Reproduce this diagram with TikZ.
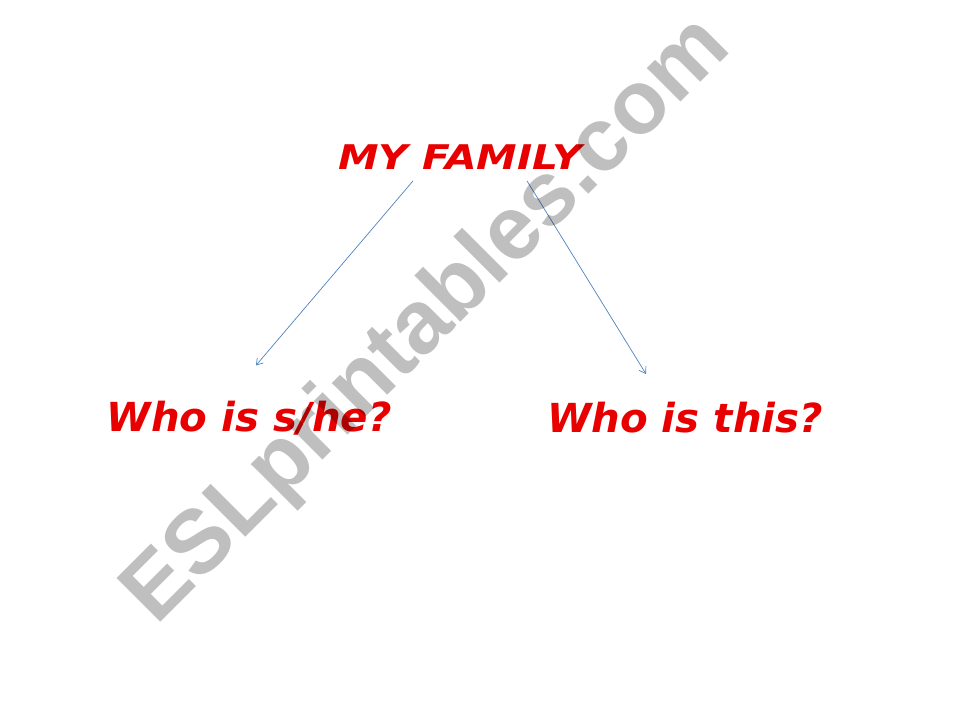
\documentclass[tikz,border=0pt]{standalone}
\usepackage{fontspec}
\setmainfont{DejaVu Sans}
\newfontfamily\titlefont[FakeStretch=1.2]{DejaVu Sans}
\newfontfamily\askfont[FakeStretch=1.12]{DejaVu Sans Condensed}
\newfontfamily\markfont{Liberation Sans}
\usetikzlibrary{arrows.meta}
\definecolor{famred}{RGB}{232,0,0}
\definecolor{linkblue}{RGB}{79,129,189}
\tikzset{
  title/.style={text=famred, font=\titlefont\bfseries\itshape\fontsize{34}{34}\selectfont},
  ask/.style={text=famred, font=\askfont\bfseries\itshape\fontsize{40}{40}\selectfont},
  link/.style={draw=linkblue, line width=0.7pt, -{Straight Barb[length=6pt,width=8pt]}}
}
\begin{document}
\begin{tikzpicture}[x=1pt,y=-1pt]
                \useasboundingbox (0,0) rectangle (960,720);
                \node[title] (fam) at (460,157) {MY FAMILY};
                \node[ask] (who) at (249,418) {Who is s/he?};
                \node[ask] (this) at (685,418) {Who is this?};

                \draw[link] ([xshift=-47pt,yshift=-8pt]fam.south) to ([xshift=7pt,yshift=32pt]who.north);
                \draw[link] ([xshift=67pt,yshift=-8pt]fam.south) to ([xshift=-39pt,yshift=25pt]this.north);

                \node[rotate=45, text=black, opacity=0.25, font=\markfont\bfseries\fontsize{90}{90}\selectfont] (mark) at (428,322) {ESLprintables.com};
            \end{tikzpicture}
\end{document}
